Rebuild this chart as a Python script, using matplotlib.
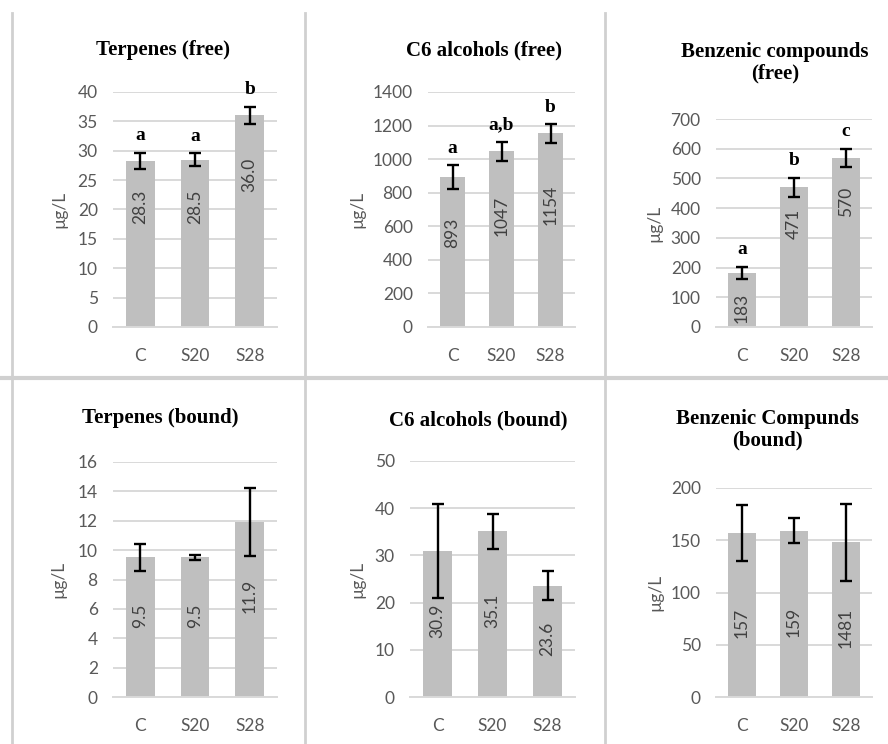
import matplotlib
matplotlib.use("Agg")
import matplotlib.pyplot as plt
from matplotlib.lines import Line2D

W, H = 888, 744
DPI = 100

categories = ["C", "S20", "S28"]

terp_free = [28.3, 28.5, 36.0]
terp_free_err = [1.4, 1.1, 1.5]
terp_free_letters = ["a", "a", "b"]

c6_free = [893, 1047, 1154]
c6_free_err = [72, 56, 56]
c6_free_letters = ["a", "a,b", "b"]

benz_free = [183, 471, 570]
benz_free_err = [20, 32, 30]
benz_free_letters = ["a", "b", "c"]

terp_bound = [9.5, 9.5, 11.9]
terp_bound_err = [0.9, 0.15, 2.3]

c6_bound = [30.9, 35.1, 23.6]
c6_bound_err = [10.0, 3.7, 3.1]

benz_bound = [157, 159, 148]
benz_bound_err = [27, 12, 37]
benz_bound_labels = ["157", "159", "1481"]

titles = ["Terpenes (free)", "C6 alcohols (free)", "Benzenic compounds\n(free)",
          "Terpenes (bound)", "C6 alcohols (bound)", "Benzenic Compunds\n(bound)"]

panels = [
    dict(v=terp_free, e=terp_free_err, lt=terp_free_letters, lab=["%.1f" % x for x in terp_free],
         ymax=40, step=5, box=(113, 92, 277, 327), title_xy=(163, 50), ylab_dx=54, lfrac=0.72),
    dict(v=c6_free, e=c6_free_err, lt=c6_free_letters, lab=["%d" % x for x in c6_free],
         ymax=1400, step=200, box=(428, 92, 575, 327), title_xy=(484, 50), ylab_dx=71, lfrac=0.63),
    dict(v=benz_free, e=benz_free_err, lt=benz_free_letters, lab=["%d" % x for x in benz_free],
         ymax=700, step=100, box=(716, 119, 872, 327), title_xy=(775, 63), ylab_dx=62, lfrac=0.74),
    dict(v=terp_bound, e=terp_bound_err, lt=None, lab=["%.1f" % x for x in terp_bound],
         ymax=16, step=2, box=(113, 462, 277, 697), title_xy=(160, 418), ylab_dx=55, lfrac=0.58),
    dict(v=c6_bound, e=c6_bound_err, lt=None, lab=["%.1f" % x for x in c6_bound],
         ymax=50, step=10, box=(410, 461, 575, 697), title_xy=(478, 420), ylab_dx=53, lfrac=0.52),
    dict(v=benz_bound, e=benz_bound_err, lt=None, lab=benz_bound_labels,
         ymax=200, step=50, box=(716, 488, 872, 697), title_xy=(767, 430), ylab_dx=61, lfrac=0.45),
]

fig = plt.figure(figsize=(W / DPI, H / DPI), dpi=DPI)
fig.patch.set_facecolor("white")

SANS = ["Lato", "DejaVu Sans"]
SERIF = ["Liberation Serif", "DejaVu Serif"]
TICK_C = "#595959"
GRID_C = "#d9d9d9"
BAR_C = "#bfbfbf"
FS = 12.5

for i, p in enumerate(panels):
    x0, y0, x1, y1 = p["box"]
    ax_h_px = y1 - y0
    ax = fig.add_axes([x0 / W, 1 - y1 / H, (x1 - x0) / W, ax_h_px / H])
    xs = list(range(len(categories)))
    ax.bar(xs, p["v"], width=0.53, color=BAR_C, zorder=2)
    ax.errorbar(xs, p["v"], yerr=p["e"], fmt="none", ecolor="black",
                elinewidth=1.7, capsize=4, capthick=1.7, zorder=3)
    ax.set_xlim(-0.5, 2.5)
    ax.set_ylim(0, p["ymax"])
    ticks = list(range(0, p["ymax"] + 1, p["step"]))
    ax.set_yticks(ticks)
    ax.set_xticks(xs)
    ax.set_xticklabels(categories)
    ax.grid(axis="y", color=GRID_C, linewidth=1.4, zorder=0)
    ax.set_axisbelow(True)
    for s in ["top", "right", "left"]:
        ax.spines[s].set_visible(False)
    ax.spines["bottom"].set_color(GRID_C)
    ax.spines["bottom"].set_linewidth(1.4)
    ax.tick_params(axis="both", length=0, labelsize=FS, labelcolor=TICK_C)
    ax.tick_params(axis="y", pad=11)
    ax.tick_params(axis="x", pad=15)
    for t in ax.get_xticklabels() + ax.get_yticklabels():
        t.set_family(SANS)
    ax.set_ylabel("µg/L", fontsize=FS, color=TICK_C, family=SANS)
    ax.yaxis.label.set_va("center")
    ax.yaxis.set_label_coords(-p["ylab_dx"] / (x1 - x0), 0.5)
    # data labels inside bars (kept at least ~35 px below the bar top)
    units_per_px = p["ymax"] / ax_h_px
    for x, v, lab in zip(xs, p["v"], p["lab"]):
        yc = min(v * p["lfrac"], v - 35 * units_per_px)
        ax.text(x, yc, lab, rotation=90, ha="center", va="center",
                fontsize=FS, color="#404040", family=SANS, zorder=4)
    # significance letters
    if p["lt"]:
        for x, v, e, l in zip(xs, p["v"], p["e"], p["lt"]):
            ax.annotate(l, (x, v + e), xytext=(0, 6), textcoords="offset points",
                        ha="center", va="bottom", fontsize=14, fontweight="bold",
                        family=SERIF, color="black", annotation_clip=False)
    tx, ty = p["title_xy"]
    fig.text(tx / W, 1 - ty / H, titles[i], ha="center", va="center",
             fontsize=15, fontweight="bold", family=SERIF, color="black",
             linespacing=1.1)

# panel frame lines
LC = "#d0d0d0"
def fline(xa, ya, xb, yb, lw=2.0):
    fig.add_artist(Line2D([xa / W, xb / W], [1 - ya / H, 1 - yb / H], color=LC, lw=lw))

for xv in (12, 305, 605):
    fline(xv, 13, xv, 376)
    fline(xv, 380, xv, 744)
fline(0, 378, 888, 378, lw=3.0)

fig.savefig("out.png", dpi=DPI, facecolor="white")
